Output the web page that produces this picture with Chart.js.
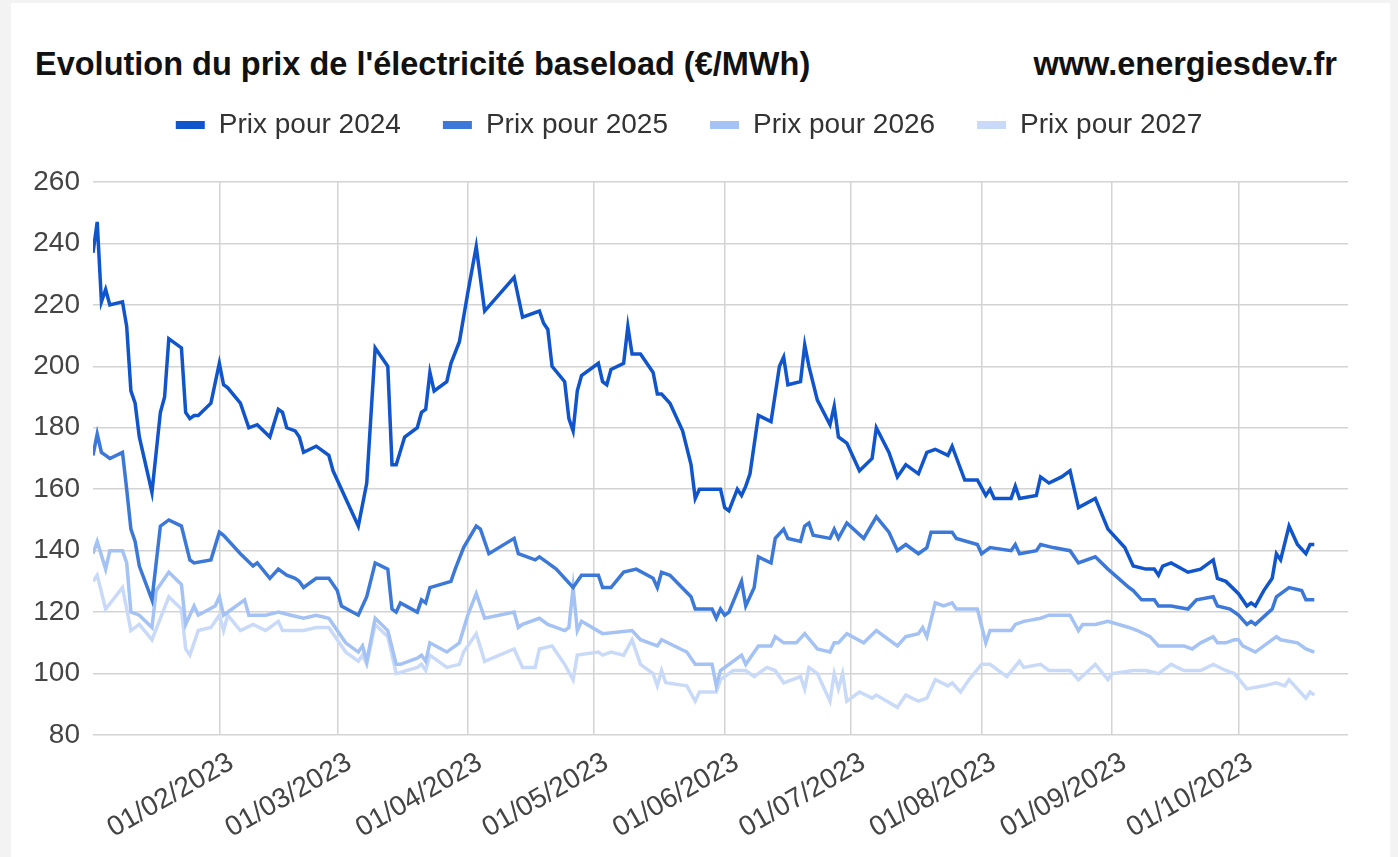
<!DOCTYPE html>
<html lang="fr">
<head>
<meta charset="utf-8">
<title>Evolution du prix de l'électricité baseload</title>
<script src="https://cdn.jsdelivr.net/npm/chart.js@4.4.0/dist/chart.umd.min.js"></script>
<style>
  html, body { margin: 0; padding: 0; background: #f3f3f3; }
  body { width: 1398px; height: 857px; position: relative; overflow: hidden;
         font-family: Arial, "Liberation Sans", sans-serif; }
  #carte { position: absolute; left: 11px; top: 3px; width: 1379px; height: 854px; background: #fff; }
  .entete { position: absolute; top: 48px; font-size: 32.5px; line-height: 32.5px; font-weight: bold;
            color: #111; white-space: nowrap; }
  #titre { left: 35px; }
  #site { right: 61px; }
  #graphique { position: absolute; left: 0; top: 0; }
</style>
</head>
<body>
<div id="carte"></div>
<div id="titre" class="entete">Evolution du prix de l'électricité baseload (€/MWh)</div>
<div id="site" class="entete">www.energiesdev.fr</div>
<canvas id="graphique" width="1398" height="857"></canvas>

<script>
// jours comptés depuis le 01/01/2023 (1 = 02/01/2023)
const jours2024 = [1, 2, 3, 4, 5, 8, 9, 10, 11, 12, 15, 16, 17, 18, 19, 22, 23, 24, 25, 26, 29, 31, 32, 33, 36, 38, 40, 43, 45, 46, 47, 49, 50, 51, 54, 57, 58, 61, 64, 66, 68, 71, 72, 73, 75, 78, 79, 80, 81, 82, 85, 86, 88, 90, 92, 94, 101, 103, 107, 108, 109, 110, 113, 114, 115, 116, 117, 121, 122, 123, 124, 127, 128, 129, 131, 134, 135, 136, 138, 141, 143, 144, 145, 149, 150, 151, 152, 154, 155, 156, 157, 159, 162, 164, 165, 166, 169, 170, 171, 173, 176, 177, 178, 180, 183, 186, 187, 190, 192, 194, 197, 199, 201, 204, 205, 208, 211, 213, 214, 215, 219, 220, 221, 225, 226, 228, 231, 233, 235, 239, 242, 246, 248, 251, 253, 254, 255, 257, 261, 264, 267, 268, 270, 273, 275, 276, 277, 279, 281, 282, 283, 285, 287, 289, 290, 291];
const prix2024 = [237, 247, 221, 225, 220, 221, 213, 192, 188, 177, 159, 172, 185, 190, 209, 206, 185, 183, 184, 184, 188, 201, 194, 193, 188, 180, 181, 177, 186, 185, 180, 179, 177, 172, 174, 171, 166, 157, 148, 162, 206, 200, 168, 168, 177, 180, 185, 186, 198, 192, 195, 201, 208, 224, 239, 218, 229, 216, 218, 214, 212, 200, 195, 183, 179, 192, 197, 201, 195, 194, 199, 201, 213, 204, 204, 198, 191, 191, 188, 179, 168, 157, 160, 160, 160, 154, 153, 160, 158, 161, 165, 184, 182, 200, 203, 194, 195, 207, 200, 189, 181, 187, 177, 175, 166, 170, 180, 172, 164, 168, 165, 172, 173, 171, 174, 163, 163, 158, 160, 157, 157, 161, 157, 158, 164, 162, 164, 166, 154, 157, 147, 141, 135, 134, 134, 132, 135, 136, 133, 134, 137, 131, 130, 126, 122, 123, 122, 127, 131, 139, 137, 148, 142, 139, 142, 142];

const jours2025 = [1, 2, 3, 4, 5, 8, 9, 10, 11, 12, 15, 17, 19, 22, 24, 25, 29, 31, 32, 36, 39, 40, 43, 45, 47, 49, 50, 51, 54, 57, 59, 60, 64, 66, 68, 71, 72, 73, 74, 78, 79, 80, 81, 86, 87, 89, 92, 93, 95, 101, 102, 106, 107, 109, 111, 115, 117, 121, 122, 124, 127, 130, 134, 135, 136, 138, 143, 144, 148, 149, 150, 151, 152, 155, 156, 158, 159, 162, 163, 165, 166, 169, 170, 171, 172, 176, 177, 178, 180, 184, 187, 190, 192, 194, 197, 199, 200, 205, 206, 211, 212, 214, 219, 220, 221, 225, 226, 229, 233, 235, 239, 242, 247, 248, 250, 253, 254, 257, 261, 263, 267, 268, 271, 273, 275, 276, 277, 281, 282, 285, 288, 289, 290, 291];
const prix2025 = [171, 178, 172, 171, 170, 172, 160, 147, 143, 135, 124, 148, 150, 148, 137, 136, 137, 146, 145, 139, 135, 136, 131, 134, 132, 131, 130, 128, 131, 131, 127, 122, 119, 125, 136, 134, 121, 120, 123, 120, 124, 123, 128, 130, 134, 141, 148, 147, 139, 144, 139, 137, 138, 136, 134, 128, 132, 132, 128, 128, 133, 134, 131, 128, 133, 132, 125, 121, 121, 118, 121, 119, 120, 130, 122, 128, 138, 136, 144, 147, 144, 143, 148, 149, 145, 144, 147, 144, 149, 144, 151, 146, 140, 142, 139, 141, 146, 146, 144, 142, 139, 141, 140, 142, 139, 140, 142, 141, 140, 136, 138, 134, 128, 127, 124, 124, 122, 122, 121, 124, 125, 122, 121, 119, 116, 117, 116, 121, 125, 128, 127, 124, 124, 124];

const jours2026 = [1, 2, 4, 5, 8, 9, 10, 12, 15, 16, 19, 22, 23, 25, 26, 30, 31, 32, 37, 38, 42, 45, 48, 51, 54, 57, 59, 61, 64, 65, 66, 68, 71, 73, 74, 78, 79, 80, 81, 85, 88, 90, 92, 94, 101, 102, 103, 107, 109, 113, 114, 115, 116, 117, 122, 129, 131, 135, 136, 142, 144, 148, 149, 150, 155, 156, 159, 162, 163, 165, 168, 170, 173, 176, 177, 178, 180, 184, 187, 192, 194, 197, 198, 199, 201, 203, 205, 206, 211, 213, 214, 219, 220, 222, 226, 228, 233, 235, 236, 239, 242, 247, 249, 252, 254, 260, 262, 264, 267, 268, 270, 272, 273, 274, 277, 282, 283, 287, 289, 291];
const prix2026 = [139, 143, 134, 140, 140, 136, 120, 119, 115, 127, 133, 129, 116, 122, 119, 122, 125, 119, 124, 119, 119, 120, 119, 118, 119, 118, 114, 110, 107, 109, 104, 118, 114, 103, 103, 105, 106, 104, 110, 107, 110, 119, 126, 118, 120, 115, 116, 118, 116, 114, 115, 128, 114, 117, 113, 114, 111, 109, 111, 107, 103, 103, 96, 101, 106, 103, 109, 109, 112, 110, 110, 113, 108, 107, 110, 110, 113, 110, 114, 109, 112, 113, 115, 112, 123, 122, 123, 121, 121, 110, 114, 114, 116, 117, 118, 119, 119, 114, 116, 116, 117, 115, 114, 112, 109, 109, 108, 110, 112, 110, 110, 111, 111, 109, 107, 112, 111, 110, 108, 107];

const jours2027 = [1, 2, 4, 8, 10, 12, 15, 19, 22, 23, 24, 26, 29, 31, 32, 33, 36, 39, 42, 45, 46, 51, 54, 57, 59, 61, 64, 65, 66, 68, 71, 73, 78, 79, 80, 81, 85, 88, 89, 92, 94, 101, 103, 106, 107, 110, 113, 115, 116, 121, 122, 124, 127, 129, 131, 134, 135, 136, 137, 142, 144, 145, 149, 150, 153, 156, 158, 161, 163, 165, 169, 170, 171, 173, 176, 177, 178, 179, 180, 183, 186, 187, 192, 194, 197, 199, 201, 204, 205, 207, 209, 212, 214, 218, 221, 222, 226, 228, 233, 235, 239, 242, 243, 248, 251, 254, 257, 260, 264, 267, 270, 272, 275, 279, 282, 284, 285, 289, 290, 291];
const prix2027 = [130, 132, 121, 128, 114, 116, 111, 125, 121, 108, 106, 114, 115, 119, 114, 119, 114, 116, 114, 117, 114, 114, 115, 115, 111, 107, 104, 106, 103, 116, 112, 100, 102, 103, 101, 106, 102, 103, 107, 113, 104, 108, 102, 102, 108, 109, 103, 98, 106, 107, 106, 107, 106, 111, 103, 100, 96, 101, 97, 96, 91, 94, 94, 98, 101, 101, 99, 102, 101, 97, 99, 95, 102, 100, 91, 100, 95, 100, 91, 94, 92, 93, 89, 93, 91, 92, 98, 96, 97, 94, 98, 103, 103, 99, 104, 102, 103, 101, 101, 98, 103, 98, 100, 101, 101, 100, 103, 101, 101, 103, 101, 100, 95, 96, 97, 96, 98, 92, 94, 93];

const etiquettesMois = ['01/02/2023', '01/03/2023', '01/04/2023', '01/05/2023', '01/06/2023',
  '01/07/2023', '01/08/2023', '01/09/2023', '01/10/2023'];

const nomsSeries = ['Prix pour 2024', 'Prix pour 2025', 'Prix pour 2026', 'Prix pour 2027'];
const couleurs = ['#1155cc', '#3c78d8', '#a4c2f4', '#c9daf8'];

const debut = new Date(2023, 0, 1);
function versJour(txt) {
  const [j, m, a] = txt.split('/').map(Number);
  return Math.round((new Date(a, m - 1, j) - debut) / 86400000);
}
function versDate(n) {
  const d = new Date(2023, 0, 1 + n);
  const dd = String(d.getDate()).padStart(2, '0');
  const mm = String(d.getMonth() + 1).padStart(2, '0');
  return dd + '/' + mm + '/' + d.getFullYear();
}
const ticksMois = etiquettesMois.map(versJour);

function points(jours, prix) {
  return jours.map((j, i) => ({ x: j, y: prix[i] }));
}
const series = [
  points(jours2024, prix2024),
  points(jours2025, prix2025),
  points(jours2026, prix2026),
  points(jours2027, prix2027)
];

// espace supplementaire sous la legende
const espaceLegende = {
  id: 'espaceLegende',
  beforeLayout(chart) {
    const leg = chart.legend;
    if (leg && !leg._espace) {
      const fit = leg.fit;
      leg.fit = function () { fit.call(this); this.height += 33; };
      leg._espace = true;
    }
  }
};

const police = 'Arial, "Liberation Sans", sans-serif';

const config = {
  type: 'line',
  data: {
    datasets: series.map((s, i) => ({
      label: nomsSeries[i],
      data: s,
      borderColor: couleurs[i],
      backgroundColor: couleurs[i],
      borderWidth: 3.5,
      pointRadius: 0,
      tension: 0
    }))
  },
  options: {
    responsive: false,
    animation: false,
    devicePixelRatio: 1,
    layout: { padding: { left: 30, right: 50, top: 69, bottom: 0 } },
    plugins: {
      legend: {
        position: 'top',
        labels: {
          boxWidth: 29,
          boxHeight: 8,
          padding: 42,
          color: '#333',
          font: { family: police, size: 28 },
          generateLabels: (chart) =>
            Chart.defaults.plugins.legend.labels.generateLabels(chart).map(l => ({ ...l, lineWidth: 0 }))
        }
      },
      tooltip: { enabled: false }
    },
    scales: {
      x: {
        type: 'linear',
        min: 1,
        max: 299,
        afterBuildTicks: (axe) => { axe.ticks = ticksMois.map(v => ({ value: v })); },
        afterFit: (axe) => { axe.height = 122; },
        ticks: {
          autoSkip: false,
          minRotation: 30,
          maxRotation: 30,
          padding: 11,
          labelOffset: 12,
          color: '#444',
          font: { family: police, size: 28 },
          callback: (v) => versDate(v)
        },
        grid: { color: '#d3d3d3', lineWidth: 1.5, drawTicks: false },
        border: { display: false }
      },
      y: {
        min: 80,
        max: 260,
        afterFit: (axe) => { axe.width = 63; },
        ticks: {
          stepSize: 20,
          padding: 13,
          color: '#444',
          font: { family: police, size: 28 }
        },
        grid: { color: '#d3d3d3', lineWidth: 1.5, drawTicks: false },
        border: { display: false }
      }
    }
  },
  plugins: [espaceLegende]
};

const monGraphique = new Chart(
  document.getElementById('graphique'),
  config
);
</script>
</body>
</html>
